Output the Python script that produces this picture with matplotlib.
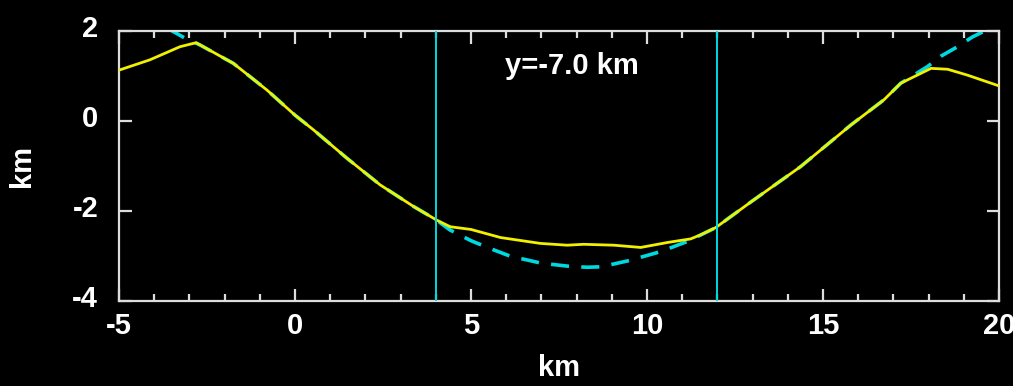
import matplotlib
matplotlib.use("Agg")
import matplotlib.pyplot as plt
import matplotlib.transforms as mtransforms
from matplotlib.ticker import MultipleLocator

plt.rcParams['axes.unicode_minus'] = False
plt.rcParams['font.family'] = ['Liberation Sans', 'DejaVu Sans']

# Yellow solid profile
yel_x = [-5.0, -4.12, -3.27, -2.81, -1.75, -0.80, 0.0, 0.53, 1.48, 2.42, 3.37, 4.02,
         4.41, 5.0, 5.84, 6.97, 7.73, 8.2, 9.06, 9.82, 10.58, 11.24, 11.52, 11.95,
         12.95, 14.37, 15.79, 16.73, 17.21, 18.07, 18.54, 19.1, 20.0]
yel_y = [1.13, 1.36, 1.65, 1.74, 1.28, 0.69, 0.13, -0.20, -0.83, -1.42, -1.90, -2.20,
         -2.35, -2.41, -2.59, -2.72, -2.76, -2.74, -2.76, -2.81, -2.70, -2.62, -2.53, -2.37,
         -1.80, -1.01, -0.09, 0.47, 0.84, 1.17, 1.15, 1.02, 0.78]

# Cyan dashed profile
cy_x = [-3.6, -3.12, -2.7, -1.75, -0.80, 0.0, 0.53, 1.48, 2.42, 3.37, 4.02, 4.4,
        5.0, 5.5, 6.1, 7.0, 7.8, 8.3, 8.7, 9.5, 10.4, 11.2, 11.95, 12.95, 14.37,
        15.79, 16.73, 17.21, 17.97, 18.35, 18.82, 19.25, 19.75]
cy_y = [2.05, 1.84, 1.69, 1.28, 0.69, 0.13, -0.20, -0.83, -1.42, -1.90, -2.20, -2.42,
        -2.66, -2.82, -3.00, -3.16, -3.23, -3.25, -3.24, -3.10, -2.90, -2.66, -2.37, -1.80, -1.01,
        -0.09, 0.47, 0.84, 1.21, 1.44, 1.65, 1.87, 2.06]

vlines_x = [4.0, 12.0]
label_text = "y=-7.0 km"

fig = plt.figure(figsize=(10.13, 3.86), dpi=100, facecolor="black")
ax = fig.add_axes([119/1013, 1-301/386, (999-119)/1013, (301-31)/386])
ax.set_facecolor("black")

cyan = "#00d8e0"
yellow = "#f0f000"

ax.plot(cy_x, cy_y, color=cyan, lw=2.6, ls=(0, (5, 3.4)), zorder=2)
ax.plot(yel_x, yel_y, color=yellow, lw=2.0, zorder=3)
for xv in vlines_x:
    ax.axvline(xv, color=cyan, lw=1.4, zorder=4)

ax.set_xlim(-5, 20)
ax.set_ylim(-4, 2)
ax.xaxis.set_major_locator(MultipleLocator(5))
ax.xaxis.set_minor_locator(MultipleLocator(1))
ax.yaxis.set_major_locator(MultipleLocator(2))

for s in ax.spines.values():
    s.set_color("#dddddd")
    s.set_linewidth(1.6)

fs = 21
ax.tick_params(which="both", direction="in", colors="#dddddd", top=True, right=True,
               labelcolor="white", labelsize=fs, width=1.6)
ax.tick_params(which="major", length=9)
ax.tick_params(which="minor", length=5)
ax.tick_params(axis="x", which="major", pad=8)
ax.tick_params(axis="y", which="major", pad=15)
for lab in ax.get_xticklabels() + ax.get_yticklabels():
    lab.set_fontweight("bold")

offset = mtransforms.ScaledTranslation(0, 5/100, fig.dpi_scale_trans)
for lab in ax.get_yticklabels():
    lab.set_transform(lab.get_transform() + offset)

ax.set_xlabel("km", color="white", fontsize=fs, fontweight="bold", labelpad=10)
ax.set_ylabel("km", color="white", fontsize=fs, fontweight="bold", labelpad=26)
ax.text(0.515, 0.872, label_text, transform=ax.transAxes, color="white", fontsize=fs,
        fontweight="bold", ha="center", va="center")

fig.savefig("out.png", dpi=100, facecolor="black")
